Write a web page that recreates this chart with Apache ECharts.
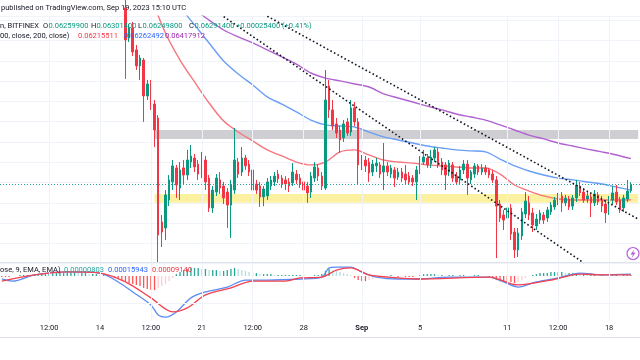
<!DOCTYPE html>
<html><head><meta charset="utf-8">
<script src="https://cdn.jsdelivr.net/npm/echarts@6/dist/echarts.min.js"></script>
<style>html,body{margin:0;padding:0;background:#fff}#c{width:640px;height:360px}</style>
</head><body><div id="c"></div>
<script>
// ---- time slots (6h candles) ----
const N_SLOTS = 176;
const SLOT_START_UTC = Date.UTC(2023, 7, 7, 6);
const FIRST_CANDLE = 34;
const tickIdx = [13, 27, 41, 55, 69, 83, 99, 115, 139, 153, 167];
const tickLabels = ['12:00', '14', '12:00', '21', '12:00', '28', 'Sep', '5', '11', '12:00', '18'];

// ---- candles (slot 34 .. 173) ----
const openP = [.07161,.07013,.07062,.06954,.06875,.06904,.06727,.06786,.06687,.06618,
.06106,.06076,.06214,.06303,.06372,.06273,.06372,.06337,.06401,.06421,
.06391,.06342,.06411,.06322,.06175,.06253,.06313,.06283,.06253,.06189,
.06263,.06401,.06352,.06421,.06391,.06362,.06293,.06283,.06229,.06234,
.06283,.06303,.06342,.06322,.06313,.06303,.06298,.06342,.06322,.06303,
.06283,.06253,.06322,.06372,.06332,.06273,.06776,.06658,.06589,.06559,
.0652,.06599,.06549,.06668,.06599,.06387,.06411,.06401,.06352,.06382,
.06387,.06352,.06382,.06342,.06362,.06327,.06352,.06342,.06332,.06322,
.06303,.06362,.06401,.06421,.06391,.06421,.06451,.06401,.06387,.06352,
.06387,.06332,.06313,.06362,.06391,.06313,.06342,.06382,.06352,.06372,
.06362,.06342,.06313,.06194,.0614,.06125,.06175,.06056,.05968,.06037,
.06145,.062,.0615,.06086,.06115,.0614,.06125,.06155,.0618,.06204,
.06234,.062,.06219,.06184,.06224,.06283,.06253,.06219,.06229,.062,
.06239,.06214,.06194,.06155,.06214,.06253,.06214,.06175,.06219,.062599];
const closeP = [.07003,.07062,.06944,.06875,.06914,.06727,.06786,.06677,.06559,.06041,
.06056,.06239,.06313,.06382,.06288,.06362,.06337,.06411,.06431,.06377,
.06342,.06421,.06303,.06175,.06263,.06322,.06273,.06224,.06189,.06288,
.06411,.06342,.06421,.06382,.06352,.06263,.06263,.06229,.06268,.06303,
.06313,.06332,.06318,.06293,.06293,.06283,.06352,.06313,.06293,.06263,
.06249,.06332,.06377,.06332,.06283,.06707,.06658,.06579,.06544,.0651,
.06589,.06544,.06668,.06599,.06387,.06411,.06382,.06347,.06391,.06396,
.06342,.06382,.06352,.06372,.06322,.06352,.06322,.06313,.06303,.06303,
.06362,.06411,.06426,.06387,.06426,.06461,.06387,.06362,.06337,.06396,
.06322,.06303,.06362,.06391,.06322,.06352,.06382,.06352,.06372,.06352,
.06337,.06313,.06184,.06125,.06115,.06175,.06046,.05968,.06051,.06155,
.06209,.0614,.06091,.0612,.0615,.06115,.06165,.06189,.06214,.06234,
.062,.06224,.0618,.06224,.06288,.06249,.06214,.06234,.062,.06244,
.06204,.06184,.0615,.06219,.06249,.06204,.06165,.06224,.06258,.062914];
const lowP = [.06811,.06993,.06924,.06855,.06806,.06599,.06707,.06658,.06475,.05908,
.05982,.06017,.06184,.06263,.06224,.06214,.06288,.06313,.06372,.06352,
.06313,.06322,.06263,.06155,.0615,.06234,.06244,.06194,.06076,.06027,
.06244,.06322,.06332,.06362,.06332,.06234,.06244,.0618,.06184,.06214,
.06263,.06283,.06298,.06273,.06263,.06253,.06283,.06293,.06273,.06239,
.062,.06224,.06303,.06308,.06263,.06263,.06618,.06559,.0652,.06446,
.065,.0653,.0653,.06579,.06288,.06362,.06352,.06303,.06332,.06352,
.06322,.06263,.06332,.06322,.06278,.06313,.06303,.06293,.06293,.06283,
.06214,.06342,.06387,.06372,.06372,.06401,.06372,.06337,.06263,.06332,
.06303,.06293,.06293,.06342,.06239,.06293,.06322,.06337,.06337,.06337,
.06322,.06298,.05928,.06106,.06066,.06056,.06017,.05928,.05933,.06017,
.06125,.06115,.06056,.06066,.06096,.06096,.06106,.0614,.06165,.06189,
.06155,.06184,.06165,.06165,.06204,.06234,.062,.062,.0613,.06184,
.06189,.06155,.06101,.0614,.06194,.06189,.0615,.06155,.06204,.062498];
const highP = [.072,.07082,.07092,.06978,.06929,.06914,.06806,.06806,.06707,.06633,
.0614,.06263,.06337,.06411,.06387,.06401,.06411,.06461,.06485,.06441,
.06411,.06451,.06431,.06337,.06283,.06342,.06352,.06303,.06273,.06313,
.06569,.06421,.06475,.06436,.06411,.06382,.06313,.06303,.06283,.06322,
.06332,.06352,.06362,.06337,.06332,.06322,.06396,.06362,.06342,.06318,
.06303,.06352,.06401,.06391,.06352,.06855,.06806,.06707,.06618,.06579,
.06608,.06618,.06707,.06697,.06618,.06436,.06431,.06421,.06411,.06421,
.06401,.06495,.06401,.06387,.06377,.06372,.06372,.06387,.06352,.06337,
.06382,.06431,.06461,.06441,.06461,.06475,.0647,.06421,.06401,.06411,
.06401,.06352,.06382,.06411,.06411,.06362,.06396,.06391,.06391,.06387,
.06372,.06362,.06332,.06214,.06165,.06194,.06194,.06076,.06076,.06175,
.06253,.06234,.06175,.06145,.06165,.06155,.0618,.06204,.06229,.06249,
.06253,.06239,.06234,.06239,.06313,.06303,.06273,.06253,.06244,.06263,
.06253,.06234,.06214,.06234,.06283,.06288,.06229,.06239,.06313,.063014];
const priceChange = ['+0.00025400', '(+0.41%)'];

// ---- moving averages (sampled daily) ----
const maIdx = [41,45,49,53,57,61,65,69,73,77,81,85,89,93,97,101,105,109,113,117,121,125,129,133,137,141,145,149,153,157,161,165,169,173];
const maRed = [.07215,.07037,.06904,.06796,.06692,.06603,.06549,.06505,.06461,.06431,.06401,.06387,.06401,.06451,.06461,.06436,.06411,.06401,.06396,.06387,.06382,.06377,.06372,.06372,.06342,.06288,.06258,.06234,.06219,.06214,.06214,.06214,.06214,0.06215511];
const maBlue = [.07348,.07259,.07165,.07077,.06988,.06899,.06835,.06781,.06722,.06687,.06648,.06608,.06584,.06579,.06574,.06549,.06525,.0651,.06495,.0648,.0647,.06461,.06456,.06451,.06416,.06382,.06357,.06337,.06322,.06313,.06303,.06293,.06278,0.06262492];
const maPurple = [.07308,.07259,.07205,.07151,.07101,.07052,.07018,.06988,.06954,.06919,.06884,.0684,.06815,.06801,.06786,.06771,.06737,.06717,.06697,.06677,.06658,.06638,.06623,.06608,.06584,.06559,.06534,.06515,.06495,.0648,.06465,.06451,.06436,0.06417912];

// ---- zones & trend lines ----
const grayZone = [42, 0.06515, 0.06559];
const yellowZone = [42, 0.06200, 0.06244];
const trendLow = [[61, 0.07118], [160, 0.05904]];
const trendHigh = [[73, 0.0712], [175, 0.0612]];

// ---- MACD ----
const macdIdx = [0,3,9,18,27,32,36,41,43,45,48,52,56,62,67,73,82,88,90,92,96,99,103,109,114,123,134,138,142,147,153,159,165,173];
const macdVal = [-0.00011,-0.00019,0.00004,0.00015,0.00011,-0.00022,-0.00059,-0.00107,-0.00144,-0.00152,-0.00133,-0.00081,-0.00059,-0.00041,-0.00015,-0.00015,-0.00011,-0.00004,0.0003,0.00033,0.00033,0.00015,-0.00004,-0.00011,-0.00011,-0.00004,-0.00004,-0.00022,-0.00041,-0.00022,-0.00007,0.00011,0.00004,0.00007];
const sigIdx = [0,9,18,27,34,41,47,51,56,63,69,78,82,88,92,96,101,109,114,134,142,151,159,165,173];
const sigVal = [-0.00019,0.00004,0.00015,0.00011,-0.00022,-0.00081,-0.00133,-0.00118,-0.0007,-0.00044,-0.00019,-0.00019,-0.00007,-0.00004,0.00022,0.0003,0.00004,-0.00007,-0.00011,-0.00004,-0.00033,-0.00015,0.00007,0.00004,0.00004];
const histVal = [-0.00004,-0.00004,-0.00004,0,0,
0.00004,0.00004,0.00004,0.00004,0.00007,0.00007,0.00007,0.00007,
0.00007,0.00011,0.00011,0.00011,0.00011,0.00015,0.00015,0.00015,0.00011,0.00011,0.00011,0.00007,0.00007,0.00007,0.00004,
0.00004,0,0,
-0.00004,-0.00011,-0.00015,-0.00019,-0.00026,-0.0003,-0.00033,-0.00037,-0.00044,-0.00048,-0.00052,-0.00052,-0.00044,-0.00037,-0.0003,-0.00019,-0.00007,
0.00007,0.00015,0.00022,0.00026,0.0003,0.0003,0.0003,0.00026,0.00026,0.00022,0.00022,0.00022,0.00019,0.00019,0.00022,0.00026,0.0003,0.00026,0.00022,0.00019,0.00015,0.00011,0.00011,0.00007,0.00007,0.00007,0.00007,0.00004,0.00004,0.00004,0.00004,0.00004,0.00004,
0.00004,0.00004,0.00004,0,0,0.00004,0.00004,
0.00007,0.00019,0.00026,0.00022,0.00019,0.00015,0.00011,0.00007,0.00004,-0.00007,-0.00015,-0.00019,-0.00019,-0.00015,-0.00011,-0.00007,-0.00004,-0.00004,
0,0.00004,0,-0.00004,0,-0.00004,-0.00004,-0.00004,0,0.00004,0.00007,0.00007,0.00007,0.00007,0.00004,0.00004,0,0.00004,0.00004,0,0.00004,0.00004,0,0,0.00004,0.00004,0,0,
-0.00004,-0.00007,-0.00015,-0.00019,-0.00022,-0.00022,-0.00022,-0.00026,-0.00022,-0.00015,-0.00007,0,0.00004,0.00007,0.00011,0.00011,0.00011,0.00015,0.00015,0.00015,0.00015,0.00011,0.00011,0.00011,0.00011,0.00007,0.00007,0.00004,0.00004,0.00004,0,0.00004,0,0,0.00004,0.00004,0,0.00004,0.00004,0.00004];
const macdLegend = ['0.00000803', '0.00015943', '0.00009140'];

// ---- build ----
const cats = [];
for (let i = 0; i < N_SLOTS; i++) {
  const d = new Date(SLOT_START_UTC + i * 6 * 3600e3);
  cats.push(d.toISOString().slice(0, 16).replace('T', ' '));
}
const candleData = cats.map((c, i) => {
  const k = i - FIRST_CANDLE;
  if (k < 0 || k >= openP.length) return '-';
  return [openP[k], closeP[k], lowP[k], highP[k]];
});
function sparse(idx, vals) {
  const a = cats.map(() => null);
  idx.forEach((s, j) => { a[s] = vals[j]; });
  return a;
}
const last = openP.length - 1;
const UP = '#089981', DOWN = '#f23645';
const FONT = 'Roboto';
const TXT = '#131722';

const gridLineStyle = { color: '#f0f3fa', width: 1, type: 'solid' };
const vLines = tickIdx.map(i => ({ xAxis: i }));

const chart = echarts.init(document.getElementById('c'), null, { renderer: 'canvas', width: 640, height: 360 });

function t(x, y, text, fill, weight) {
  return { type: 'text', x: x, y: y, z: 100, silent: true,
    style: { text: text, fill: fill, fontSize: 7.5, fontFamily: FONT, fontWeight: weight || 'normal', verticalAlign: 'middle' } };
}
const f8 = v => v.toFixed(8);

chart.setOption({
  animation: false,
  backgroundColor: '#ffffff',
  grid: [
    { left: 0, top: 16.2, width: 643.6, height: 247.5 },
    { left: 0, top: 262.5, width: 643.6, height: 58.5 }
  ],
  xAxis: [
    { type: 'category', gridIndex: 0, data: cats, boundaryGap: true, show: false },
    { type: 'category', gridIndex: 1, data: cats, boundaryGap: true,
      axisLine: { show: false }, axisTick: { show: false }, splitLine: { show: false },
      axisLabel: {
        interval: (i) => tickIdx.indexOf(i) >= 0,
        formatter: (v, i) => { const k = tickIdx.indexOf(i); const s = k >= 0 ? tickLabels[k] : ''; return s === 'Sep' ? '{b|Sep}' : s; },
        margin: 3, fontSize: 7.5, color: TXT, fontFamily: FONT,
        rich: { b: { fontWeight: 'bold', fontSize: 7.5, color: TXT, fontFamily: FONT } }
      } }
  ],
  yAxis: [
    { type: 'value', gridIndex: 0, min: 0.059, max: 0.0712, interval: 0.001, position: 'right',
      axisLabel: { show: false }, axisLine: { show: false }, axisTick: { show: false },
      splitLine: { show: true, lineStyle: gridLineStyle } },
    { type: 'value', gridIndex: 1, min: -0.001665, max: 0.0005, position: 'right',
      axisLabel: { show: false }, axisLine: { show: false }, axisTick: { show: false }, splitLine: { show: false } }
  ],
  series: [
    { type: 'line', xAxisIndex: 0, yAxisIndex: 0, data: cats.map(() => null), z: 1, silent: true,
      markLine: { silent: true, precision: 8, symbol: ['none', 'none'], label: { show: false }, lineStyle: gridLineStyle, data: vLines },
      markArea: { silent: true, data: [
        [{ xAxis: grayZone[0], yAxis: grayZone[1], itemStyle: { color: '#cfcfd3' } }, { xAxis: N_SLOTS - 1, yAxis: grayZone[2] }],
        [{ xAxis: yellowZone[0], yAxis: yellowZone[1], itemStyle: { color: '#fcf1a0' } }, { xAxis: N_SLOTS - 1, yAxis: yellowZone[2] }]
      ] } },
    { type: 'line', xAxisIndex: 0, yAxisIndex: 0, data: cats.map(() => null), z: 3, silent: true,
      markLine: { silent: true, precision: 8, symbol: ['none', 'none'], label: { show: false },
        lineStyle: { color: '#26a69a', width: 1, type: [1, 2] }, data: [{ yAxis: closeP[last] }] } },
    { type: 'line', xAxisIndex: 1, yAxisIndex: 1, data: cats.map(() => null), z: 1, silent: true,
      markLine: { silent: true, precision: 8, symbol: ['none', 'none'], label: { show: false }, lineStyle: gridLineStyle,
        data: vLines.concat([{ yAxis: -0.001 }]) } },
    { name: 'MA50', type: 'line', xAxisIndex: 0, yAxisIndex: 0, data: sparse(maIdx, maRed), connectNulls: true, smooth: 0.3,
      showSymbol: false, z: 2, lineStyle: { color: '#f7767e', width: 1.4 } },
    { name: 'MA100', type: 'line', xAxisIndex: 0, yAxisIndex: 0, data: sparse(maIdx, maBlue), connectNulls: true, smooth: 0.3,
      showSymbol: false, z: 2, lineStyle: { color: '#6a9ff5', width: 1.4 } },
    { name: 'MA200', type: 'line', xAxisIndex: 0, yAxisIndex: 0, data: sparse(maIdx, maPurple), connectNulls: true, smooth: 0.3,
      showSymbol: false, z: 2, lineStyle: { color: '#b261d0', width: 1.4 } },
    { type: 'candlestick', xAxisIndex: 0, yAxisIndex: 0, data: candleData, z: 4, barWidth: 2.1,
      itemStyle: { color: UP, color0: DOWN, borderColor: UP, borderColor0: DOWN, borderWidth: 1 } },
    { type: 'line', xAxisIndex: 0, yAxisIndex: 0, data: trendLow, showSymbol: false, z: 5, silent: true,
      lineStyle: { color: '#131722', width: 1.6, type: [1.6, 2.4] } },
    { type: 'line', xAxisIndex: 0, yAxisIndex: 0, data: trendHigh, showSymbol: false, z: 5, silent: true,
      lineStyle: { color: '#131722', width: 1.6, type: [1.6, 2.4] } },
    { type: 'bar', xAxisIndex: 1, yAxisIndex: 1, data: histVal, barWidth: 1.3, z: 2,
      itemStyle: { color: (p) => {
        const v = p.value, prev = p.dataIndex > 0 ? histVal[p.dataIndex - 1] : v;
        if (v >= 0) return v >= prev ? '#26a69a' : '#b2dfdb';
        return v <= prev ? '#ff5252' : '#ffcdd2';
      } } },
    { name: 'MACD', type: 'line', xAxisIndex: 1, yAxisIndex: 1, data: sparse(macdIdx, macdVal), connectNulls: true, smooth: 0.3,
      showSymbol: false, z: 3, lineStyle: { color: '#5b8cf5', width: 1.3 } },
    { name: 'Signal', type: 'line', xAxisIndex: 1, yAxisIndex: 1, data: sparse(sigIdx, sigVal), connectNulls: true, smooth: 0.3,
      showSymbol: false, z: 3, lineStyle: { color: '#f4414f', width: 1.3 } }
  ],
  graphic: [
    t(1, 8.5, 'published on TradingView.com, Sep 19, 2023 15:10 UTC', TXT),
    t(0, 26, 'n, BITFINEX', TXT),
    t(43, 26, 'O', TXT), t(48.5, 26, f8(openP[last]), UP),
    t(91, 26, 'H', TXT), t(96.5, 26, f8(highP[last]), UP),
    t(138, 26, 'L', TXT), t(142.5, 26, f8(lowP[last]), UP),
    t(189, 26, 'C', TXT), t(194.5, 26, f8(closeP[last]), UP),
    t(236, 26, priceChange[0] + ' ' + priceChange[1], UP),
    t(0, 36, '00, close, 200, close)', TXT),
    t(78, 36, f8(maRed[maRed.length - 1]), '#f23645'),
    t(124, 36, f8(maBlue[maBlue.length - 1]), '#2962ff'),
    t(165, 36, f8(maPurple[maPurple.length - 1]), '#9c27b0'),
    t(0, 270, 'ose, 9, EMA, EMA)', TXT),
    t(64, 270, macdLegend[0], '#26a69a'),
    t(108, 270, macdLegend[1], '#2962ff'),
    t(152, 270, macdLegend[2], '#f23645'),
    { type: 'line', z: 90, silent: true, shape: { x1: 0, y1: 262.5, x2: 640, y2: 262.5 }, style: { stroke: '#e0e3eb', lineWidth: 1 } },
    { type: 'line', z: 90, silent: true, shape: { x1: 0, y1: 337.5, x2: 640, y2: 337.5 }, style: { stroke: '#e0e3eb', lineWidth: 1 } },
    { type: 'circle', z: 95, silent: true, shape: { cx: 633, cy: 253.5, r: 6 }, style: { fill: '#fff', stroke: '#b15fd6', lineWidth: 1.2 } },
    { type: 'polygon', z: 96, silent: true, shape: { points: [[634.5, 249], [630.5, 254.5], [633, 254.5], [631.5, 258.5], [635.5, 252.5], [633, 252.5]] }, style: { fill: '#b15fd6' } }
  ]
});
</script></body></html>
